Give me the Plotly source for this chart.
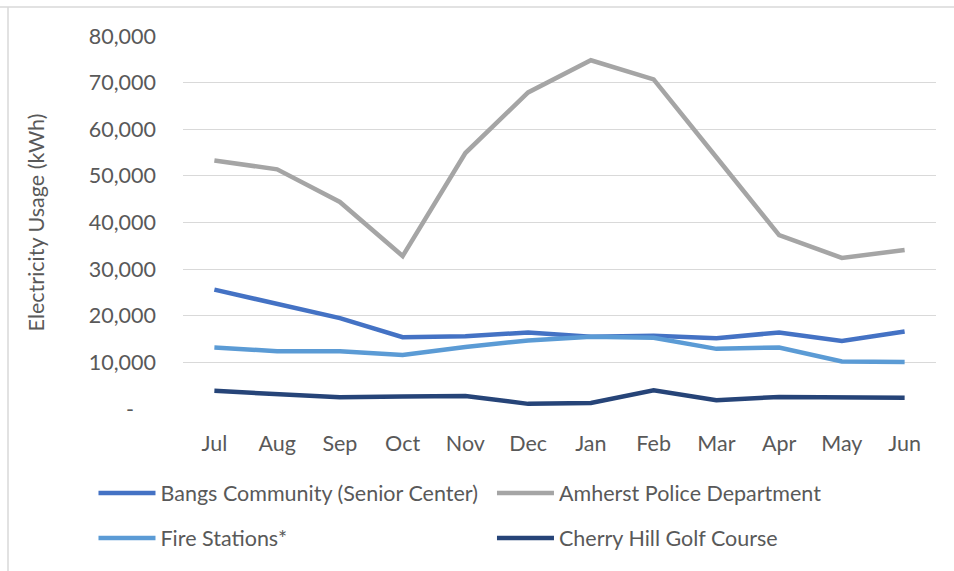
import plotly.graph_objects as go

months = ["Jul", "Aug", "Sep", "Oct", "Nov", "Dec", "Jan", "Feb", "Mar", "Apr", "May", "Jun"]
bangs = [25600, 22600, 19500, 15400, 15600, 16400, 15500, 15700, 15200, 16400, 14600, 16600]
police = [53300, 51400, 44400, 32800, 54900, 67900, 74800, 70700, 54000, 37300, 32400, 34100]
fire = [13200, 12400, 12400, 11600, 13300, 14700, 15500, 15300, 12900, 13200, 10200, 10100]
golf = [3900, 3200, 2500, 2700, 2800, 1100, 1300, 4000, 1900, 2600, 2400, 2400]

series_names = ["Bangs Community (Senior Center)", "Amherst Police Department",
                "Fire Stations*", "Cherry Hill Golf Course"]
series_colors = ["#4472C4", "#A5A5A5", "#5B9BD5", "#264478"]
series_legends = ["legend", "legend2", "legend3", "legend4"]
series_values = [bangs, police, fire, golf]

y_tickvals = [0, 10000, 20000, 30000, 40000, 50000, 60000, 70000, 80000]
y_ticktext = ["-\u00a0\u00a0\u00a0\u00a0", "10,000", "20,000", "30,000", "40,000",
              "50,000", "60,000", "70,000", "80,000"]

FONT = "Lato"
TXT = "#595959"
FS = 21.5

fig = go.Figure()
for name, vals, col, lg in zip(series_names, series_values, series_colors, series_legends):
    fig.add_trace(go.Scatter(
        x=months, y=vals, name=name, mode="lines",
        line=dict(color=col, width=4.5), legend=lg,
    ))

legend_common = dict(
    orientation="h", xref="container", yref="container",
    xanchor="left", yanchor="middle",
    font=dict(family=FONT, size=FS, color=TXT),
    itemwidth=57, bgcolor="rgba(0,0,0,0)",
)
col_x = [0.098, 0.5157]
row_y = [1 - 493 / 571, 1 - 538 / 571]

fig.update_layout(
    width=954, height=571,
    margin=dict(l=183, r=18, t=36, b=162, autoexpand=False),
    paper_bgcolor="white", plot_bgcolor="white",
    font=dict(family=FONT, size=FS, color=TXT),
    showlegend=True,
    legend=dict(legend_common, x=col_x[0], y=row_y[0]),
    legend2=dict(legend_common, x=col_x[1], y=row_y[0]),
    legend3=dict(legend_common, x=col_x[0], y=row_y[1]),
    legend4=dict(legend_common, x=col_x[1], y=row_y[1]),
    xaxis=dict(
        range=[-0.5, 11.5],
        showgrid=False, showline=False, zeroline=False, ticks="",
        tickfont=dict(family=FONT, size=FS, color=TXT),
        ticklabelstandoff=19,
    ),
    yaxis=dict(
        range=[0, 80000], tickvals=y_tickvals, ticktext=y_ticktext,
        showgrid=True, gridcolor="#D9D9D9", gridwidth=1.3,
        zeroline=False, showline=False, ticks="",
        tickfont=dict(family=FONT, size=FS, color=TXT),
        ticklabelstandoff=26,
        title=dict(text="Electricity Usage (kWh)", font=dict(family=FONT, size=FS, color=TXT),
                   standoff=38),
    ),
    shapes=[
        dict(type="line", xref="paper", yref="paper", x0=-183 / 753, x1=1.05,
             y0=1 + 29 / 373, y1=1 + 29 / 373, line=dict(color="#D9D9D9", width=1.5)),
        dict(type="line", xref="paper", yref="paper", x0=-175 / 753, x1=-175 / 753,
             y0=1 + 29 / 373, y1=-0.5, line=dict(color="#D9D9D9", width=1.5)),
    ],
)

fig.write_html("out.html")
